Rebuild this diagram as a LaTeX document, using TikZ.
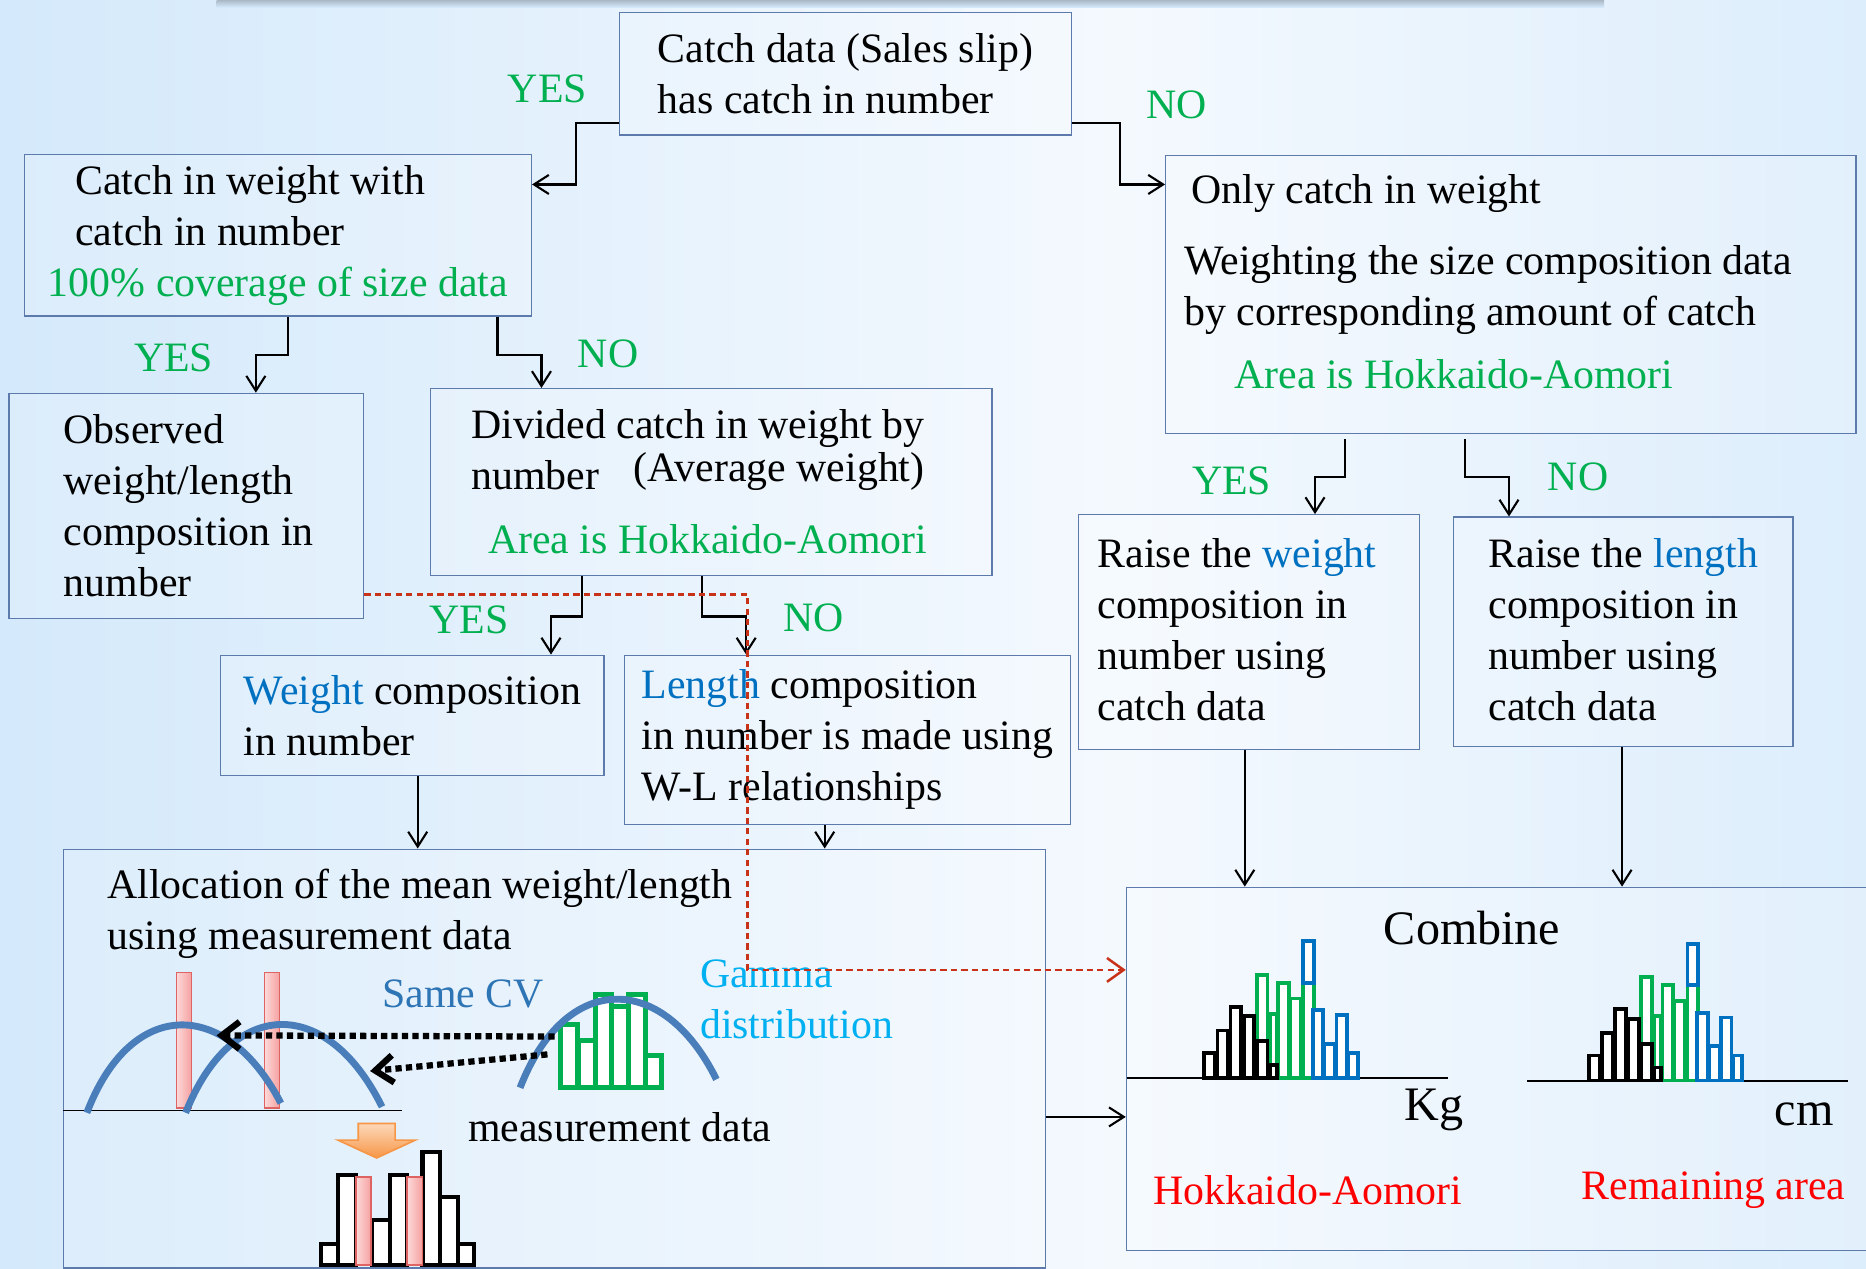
\documentclass[tikz,border=0pt]{standalone}
\usepackage{fontspec}
\setmainfont{Liberation Serif}
\usetikzlibrary{arrows.meta}

\definecolor{bgleft}{RGB}{182,219,248}
\definecolor{bgsoft}{RGB}{212,233,251}
\definecolor{bgmid}{RGB}{244,249,254}
\definecolor{bgright}{RGB}{192,224,249}
\definecolor{shadowgray}{RGB}{170,184,198}
\definecolor{boxline}{RGB}{92,122,172}
\definecolor{okgreen}{RGB}{0,176,80}
\definecolor{wordblue}{RGB}{0,112,192}
\definecolor{cvblue}{RGB}{46,117,182}
\definecolor{gammacyan}{RGB}{0,176,240}
\definecolor{curveblue}{RGB}{74,126,187}
\definecolor{dashred}{RGB}{200,50,25}
\definecolor{barpink}{RGB}{246,160,160}
\definecolor{barpinkL}{RGB}{252,218,218}
\definecolor{barred}{RGB}{222,100,100}
\definecolor{orangeL}{RGB}{252,216,186}
\definecolor{orangeD}{RGB}{247,150,70}

\pgfdeclarehorizontalshading{bgshade}{100bp}{color(0bp)=(bgleft); color(25bp)=(bgsoft);
  color(55bp)=(bgmid); color(82bp)=(bgsoft); color(100bp)=(bgright)}

\newcommand\boxfont{\fontsize{20}{24.4}\selectfont}
\newcommand\bigfont{\fontsize{23}{27}\selectfont}

\tikzset{
  procbox/.style={draw=boxline, line width=0.6pt, fill=white, fill opacity=0.18,
    text opacity=1, anchor=north west, align=left, inner sep=1pt, font=\boxfont},
  yesno/.style={text=okgreen, font=\boxfont, inner sep=0pt},
  flow/.style={-{Straight Barb[length=2.5mm,width=3.2mm]}, line width=1pt},
  dotarrow/.style={-{Straight Barb[length=3mm,width=4.6mm]}, line width=3pt,
    dash pattern=on 3pt off 2pt},
  histbar/.style={line width=1.8pt, fill=white},
  sizehist/.pic={
    \foreach \bx/\bw/\bh in {44/9/87, 55/6/54, 62/9/80, 72/9/67, 83/9/80}
      \draw[histbar, draw=okgreen] (\bx,0) rectangle (\bx+\bw,-\bh);
    \foreach \bx/\bw/\bh in {0/9/21, 11/9/40, 22/9/60, 33/9/52, 44/9/31, 55/6/11}
      \draw[histbar, draw=black] (\bx,0) rectangle (\bx+\bw,-\bh);
    \draw[histbar, draw=wordblue] (83,-80) rectangle (92,-115);
    \foreach \bx/\bw/\bh in {91/9/57, 101/9/29, 111/9/53, 121/8/21}
      \draw[histbar, draw=wordblue] (\bx,0) rectangle (\bx+\bw,-\bh);
  }
}

\begin{document}
\begin{tikzpicture}[x=0.2mm, y=-0.2mm]
\useasboundingbox (0,0) rectangle (1568,1066);
\shade[shading=bgshade] (0,0) rectangle (1568,1066);
\shade[top color=shadowgray, bottom color=bgsoft] (182,0) rectangle (1348,6);

% boxes
\node[procbox, minimum width=76mm, minimum height=20.6mm] (catch) at (520,10)
  {Catch data (Sales slip)\\has catch in number};
\node[procbox, minimum width=85.2mm, minimum height=27.2mm] (wnum) at (20,129)
  {\hspace*{4.6mm}Catch in weight with\\\hspace*{4.6mm}catch in number\\
   \textcolor{okgreen}{100\% coverage of size data}};
\node[procbox, minimum width=59.6mm, minimum height=37.8mm] (obs) at (7,330)
  {\hspace*{0.8mm}Observed\\\hspace*{0.8mm}weight/length\\\hspace*{0.8mm}composition in\\\hspace*{0.8mm}number};
\node[procbox, minimum width=94.4mm, minimum height=31.4mm] (avg) at (361,326)
  {Divided catch in weight by\rule{4.4mm}{0pt}\\
   number\hspace{5.8mm}\raisebox{1.4mm}{(Average weight)}\\[2.2mm]
   \hspace*{2.8mm}\textcolor{okgreen}{Area is Hokkaido-Aomori}};
\node[procbox, minimum width=116mm, minimum height=46.8mm] (only) at (979,130)
  {\hspace*{1.2mm}Only catch in weight\\[3.2mm]
   Weighting the size composition data\rule{7.6mm}{0pt}\\
   by corresponding amount of catch\\[2mm]
   \hspace*{8.4mm}\textcolor{okgreen}{Area is Hokkaido-Aomori}\rule[-4.4mm]{0pt}{0pt}};
\node[procbox, minimum width=64.4mm, minimum height=20.2mm] (wcomp) at (185,550)
  {\textcolor{wordblue}{Weight} composition\\in number};
\node[procbox, minimum width=75mm, minimum height=28.4mm] (lcomp) at (524,550)
  {\textcolor{wordblue}{Length} composition\\in number is made using\\W-L relationships};
\node[procbox, minimum width=57.2mm, minimum height=39.4mm] (raisew) at (906,432)
  {Raise the \textcolor{wordblue}{weight}\rule{4mm}{0pt}\\composition in\\number using\\catch data\rule[-0.8mm]{0pt}{0pt}};
\node[procbox, minimum width=57mm, minimum height=38.6mm] (raisel) at (1221,434)
  {Raise the \textcolor{wordblue}{length}\\composition in\\number using\\catch data\rule[-0.8mm]{0pt}{0pt}};
\node[procbox, minimum width=165mm, minimum height=70.4mm] (alloc) at (53,713) {};
\node[procbox, minimum width=128mm, minimum height=61mm] (combine) at (946,745) {};

\node[anchor=west, align=left, font=\boxfont, inner sep=0pt] (alloctext) at (90,768)
  {Allocation of the mean weight/length\\using measurement data};
\node[font=\bigfont, inner sep=0pt] (combinetext) at (1237,780) {Combine};

% YES / NO
\node[yesno] (yes1) at (460,75) {YES};
\node[yesno] (no1) at (989,88) {NO};
\node[yesno] (yes2) at (146,301) {YES};
\node[yesno] (no2) at (511,297) {NO};
\node[yesno] (yes3) at (394,521) {YES};
\node[yesno] (no3) at (684,519) {NO};
\node[yesno] (yes4) at (1035,404) {YES};
\node[yesno] (no4) at (1326,401) {NO};

% connectors
\draw[flow] ([yshift=2.2mm]catch.south west) -- ++(-36,0) |- ([yshift=-5.2mm]wnum.north east);
\draw[flow] ([yshift=2.2mm]catch.south east) -- ++(40,0) |- ([yshift=-5mm]only.north west);
\draw[flow] ([xshift=44.4mm]wnum.south west) -- ++(0,32) -| ([xshift=41.6mm]obs.north west);
\draw[flow] ([xshift=79.6mm]wnum.south west) -- ++(0,32) -| ([xshift=18.8mm]avg.north west);
\draw[flow] ([xshift=25.6mm]avg.south west) -- ++(0,34) -| ([xshift=55.6mm]wcomp.north west);
\draw[flow] ([xshift=45.8mm]avg.south west) -- ++(0,34) -| ([xshift=20.6mm]lcomp.north west);
\draw[flow] ([xshift=30.2mm,yshift=-0.8mm]only.south west) -- ++(0,32) -| ([xshift=39.8mm]raisew.north west);
\draw[flow] ([xshift=50.4mm,yshift=-0.8mm]only.south west) -- ++(0,32) -| ([xshift=9.4mm]raisel.north west);
\draw[flow] ([xshift=33.2mm]wcomp.south west) coordinate (wc) -- (wc |- alloc.north);
\draw[flow] ([xshift=33.8mm]lcomp.south west) coordinate (lc) -- (lc |- alloc.north);
\draw[flow] ([xshift=28mm]raisew.south west) coordinate (rw) -- (rw |- combine.north);
\draw[flow] ([xshift=28.4mm]raisel.south west) coordinate (rl) -- (rl |- combine.north);
\draw[flow] ([yshift=-9.8mm]alloc.east) coordinate (al) -- (al -| combine.west);

% allocation sketch
\foreach \bx in {148,222}
  \draw[barred, line width=0.6pt, left color=barpinkL, right color=barpink] (\bx,817) rectangle (\bx+13,931);
\draw[line width=0.8pt] (53,933) -- (338,933);
\draw[curveblue, line width=3.3pt] (73,935) .. controls (110,838) and (190,838) .. (236,927);
\draw[curveblue, line width=3.3pt] (156,935) .. controls (195,837) and (275,837) .. (321,930);
\foreach \bx/\by in {471/861, 486/874, 500/836, 514/846, 528/836, 542/887}
  \draw[okgreen, line width=2.4pt, fill=white] (\bx,914) rectangle (\bx+14,\by);
\draw[curveblue, line width=3.3pt] (437,914) .. controls (475,816) and (557,816) .. (602,907);
\draw[dotarrow] (466,871) -- (182,870);
\draw[dotarrow] (460,886) -- (311,900);
\draw[orangeD, line width=0.8pt, top color=orangeL, bottom color=orangeD]
  (301,944) -- (332,944) -- (332,958) -- (349,958) -- (316.5,973) -- (284,958) -- (301,958) -- cycle;
\foreach \bx/\bw/\by in {270/14/1045, 284/15/987, 312.5/15.5/1025, 328/14/987, 355/15/968, 370/15/1006, 385/13/1045}
  \draw[line width=2pt, fill=white] (\bx,1063) rectangle (\bx+\bw,\by);
\foreach \bx in {299,342}
  \draw[barred, line width=0.8pt, left color=barpinkL, right color=barpink] (\bx,1063) rectangle (\bx+13,989);
\node[text=cvblue, font=\boxfont, inner sep=0pt] (samecv) at (389,835) {Same CV};
\node[text=gammacyan, font=\boxfont, align=left, anchor=west, inner sep=0pt] (gamma) at (588,840) {Gamma\\distribution};
\node[font=\boxfont, anchor=west, inner sep=0pt] (measure) at (393,947) {measurement data};

% combined compositions
\draw[line width=0.9pt] (947,906) -- (1217,906);
\draw[line width=0.9pt] (1283,908) -- (1553,908);
\pic at (1012,906) {sizehist};
\pic at (1335,908) {sizehist};
\node[font=\bigfont, inner sep=0pt] (kg) at (1205,933) {Kg};
\node[font=\bigfont, inner sep=0pt] (cm) at (1516,936) {cm};
\node[text=red, font=\boxfont, inner sep=0pt] (hokk) at (1099,1000) {Hokkaido-Aomori};
\node[text=red, font=\boxfont, inner sep=0pt] (remain) at (1440,1000) {Remaining area};

% dashed link
\draw[dashred, line width=1.2pt, dash pattern=on 3pt off 2pt, -{Straight Barb[length=2.8mm,width=4mm]}]
  ([yshift=-14.9mm]obs.east) -- ++(322,0) |- ([yshift=-14mm]combine.north west);
\end{tikzpicture}
\end{document}
